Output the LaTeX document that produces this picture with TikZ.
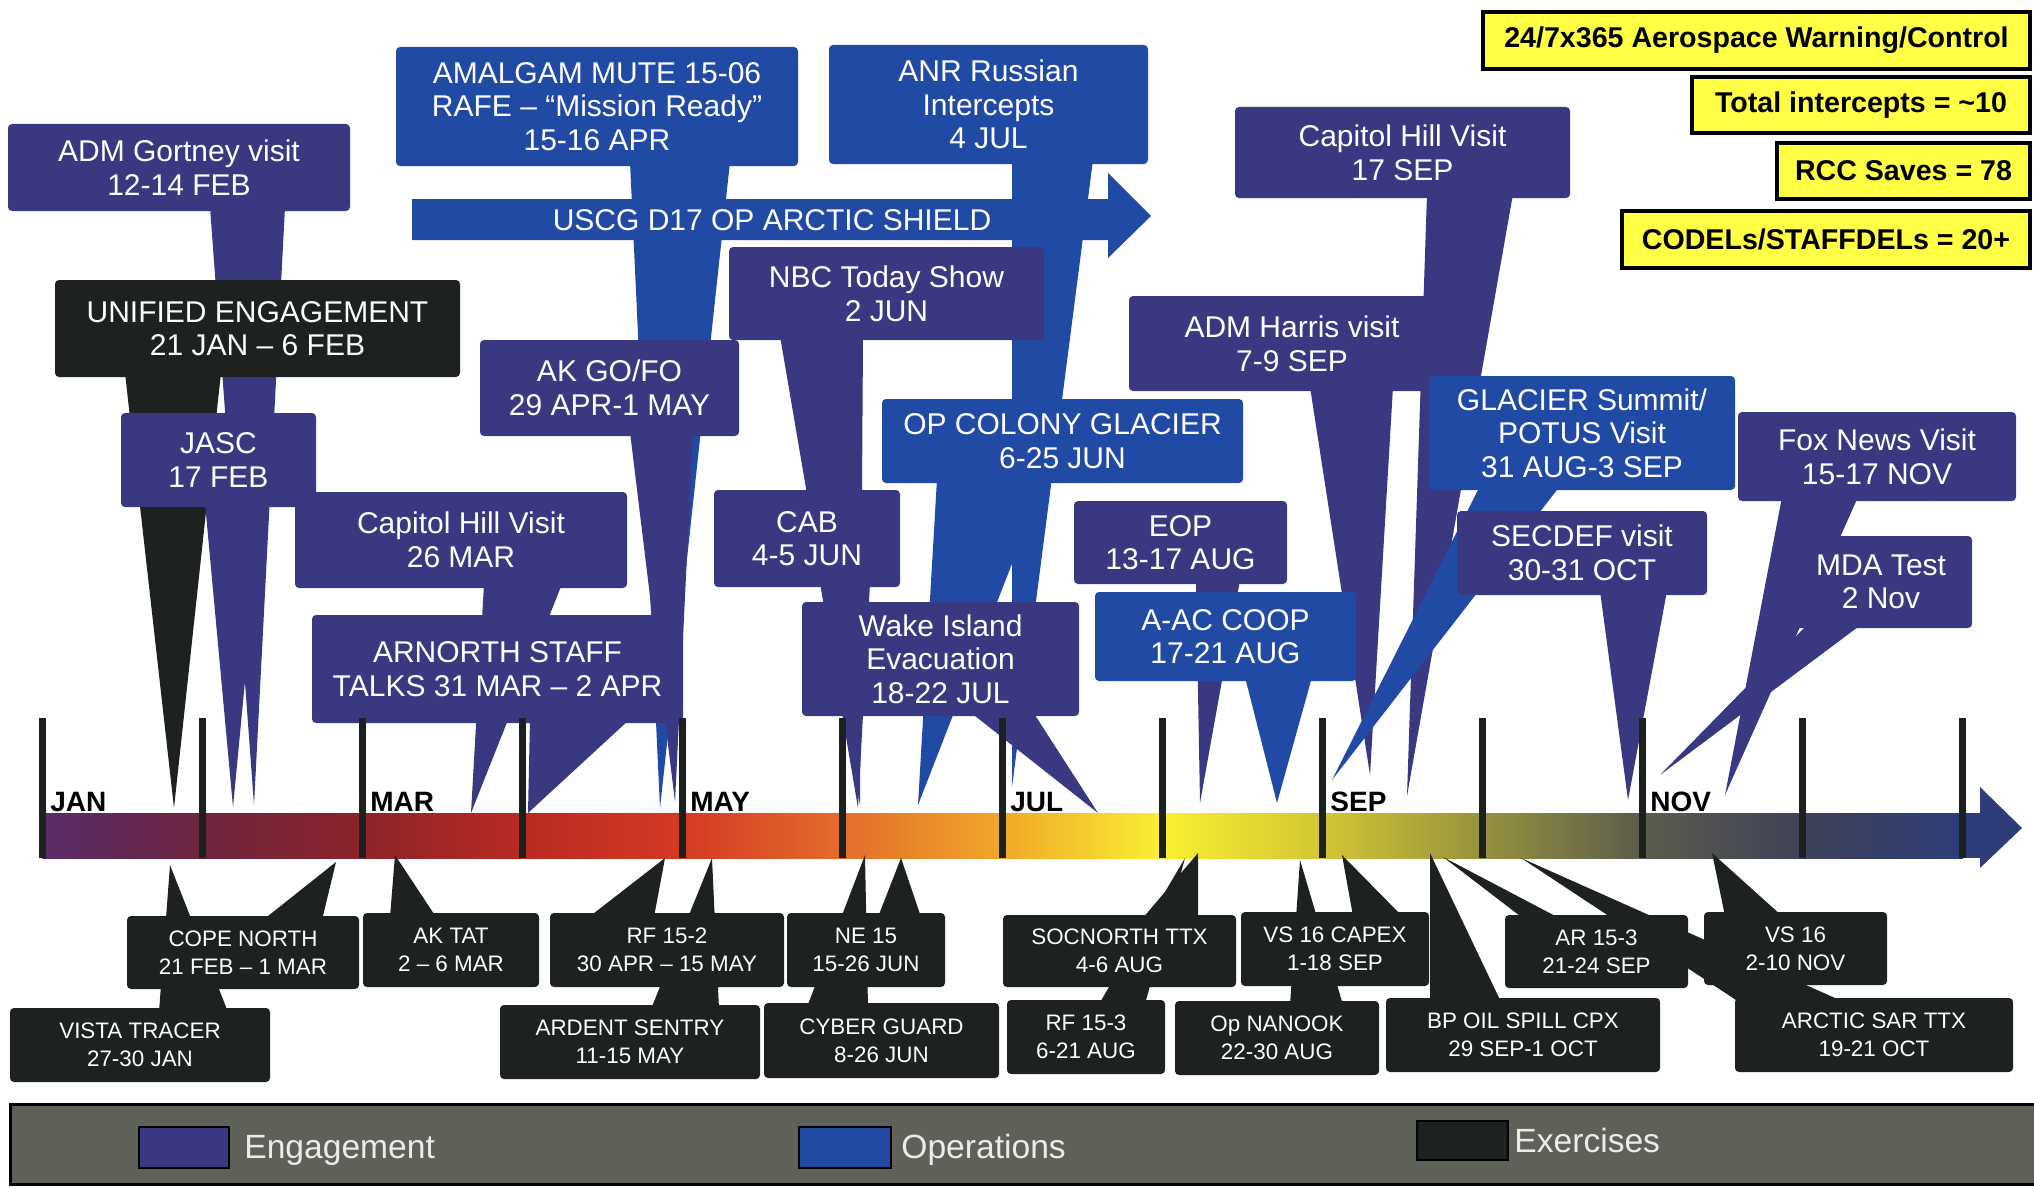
\documentclass[tikz,border=0pt]{standalone}
\usepackage{fontspec}
\setmainfont{Liberation Sans}
\usepackage{xcolor}
\usepackage{tikz}
\usetikzlibrary{calc, fit}

\pgfdeclarelayer{barlayer}
\pgfdeclarelayer{wedgelayer}
\pgfdeclarelayer{ticklayer}
\pgfsetlayers{barlayer,wedgelayer,main,ticklayer}

\definecolor{engc}{RGB}{57,56,128}
\definecolor{opsc}{RGB}{33,74,165}
\definecolor{exrc}{RGB}{29,33,31}
\definecolor{yelc}{RGB}{255,255,70}
\definecolor{legc}{RGB}{94,97,88}
\definecolor{tickc}{RGB}{28,32,30}
\definecolor{bar0}{RGB}{88,44,104}
\definecolor{bar1}{RGB}{110,36,62}
\definecolor{bar2}{RGB}{140,36,42}
\definecolor{bar3}{RGB}{185,42,34}
\definecolor{bar4}{RGB}{212,58,36}
\definecolor{bar5}{RGB}{228,108,44}
\definecolor{bar6}{RGB}{240,168,40}
\definecolor{bar7}{RGB}{250,240,50}
\definecolor{bar8}{RGB}{210,198,52}
\definecolor{bar9}{RGB}{150,146,62}
\definecolor{bar10}{RGB}{92,92,76}
\definecolor{bar11}{RGB}{62,66,88}
\definecolor{bar12}{RGB}{46,60,122}

\begin{document}
\begin{tikzpicture}[
  x=0.5pt, y=-0.5pt,
  box/.style={rounded corners=2pt, inner sep=0pt, outer sep=0pt, align=center, text=white, font=\fontsize{15}{16.8}\selectfont},
  eng/.style={box, fill=engc},
  ops/.style={box, fill=opsc},
  exr/.style={box, fill=exrc},
  exb/.style={box, fill=exrc, font=\fontsize{11.2}{14}\selectfont},
  stat/.style={draw=black, line width=1.6pt, fill=yelc, inner sep=0pt, font=\fontsize{14.3}{16}\selectfont\bfseries},
  month/.style={anchor=base west, inner sep=0pt, font=\fontsize{14}{16}\selectfont\bfseries},
  legkey/.style={draw=black, line width=1pt, inner sep=0pt},
  legtext/.style={anchor=base west, inner sep=0pt, text=black!8, font=\fontsize{16.8}{18}\selectfont}
]
  \useasboundingbox (0,0) rectangle (2034,1188);

  % Timeline bar
  \begin{pgfonlayer}{barlayer}
    \foreach \i in {0,...,11} {
      \pgfmathtruncatemacro{\j}{\i+1}
      \shade[left color=bar\i, right color=bar\j] ({42+160*\i},813) rectangle ({43+160*\j},858);
    }
    \fill[bar0] (40,813) rectangle (43,858);
    \fill[bar12] (1962,813) rectangle (1984,858);
    \fill[bar12] (1980,787) -- (2022,828) -- (1980,868) -- cycle;
    \node[month] (jan) at (50,811) {JAN};
    \node[month] (mar) at (370,811) {MAR};
    \node[month] (may) at (690,811) {MAY};
    \node[month] (jul) at (1010,811) {JUL};
    \node[month] (sep) at (1330,811) {SEP};
    \node[month] (nov) at (1650,811) {NOV};
  \end{pgfonlayer}
  \begin{pgfonlayer}{ticklayer}
    \foreach \m in {0,...,12}
      \fill[tickc] ({38.5+160*\m},718) rectangle ({45.5+160*\m},858);
  \end{pgfonlayer}

  % Stats
  \node[stat, minimum width=273.5pt, minimum height=28.5pt] (warn) at (1756.5,40.5) {24/7x365 Aerospace Warning/Control};
  \node[stat, minimum width=169pt, minimum height=28pt] (intercepts) at (1861,105) {Total intercepts = \textasciitilde 10};
  \node[stat, minimum width=126.5pt, minimum height=28pt] (rcc) at (1903.5,171) {RCC Saves = 78};
  \node[stat, minimum width=204pt, minimum height=28.5pt] (codels) at (1826,239.5) {CODELs/STAFFDELs = 20+};

  % Arctic Shield arrow
  \fill[opsc] (412,199) -- (1108,199) -- (1108,173) -- (1151,216) -- (1108,258) -- (1108,240) -- (412,240) -- cycle;
  \node[box] (uscg) at (772,220) {USCG D17 OP ARCTIC SHIELD};

  % Engagements and operations
  \node[eng, minimum width=171pt, minimum height=43.5pt] (gortney) at (179,167.5) {ADM Gortney visit\\12-14 FEB};
  \node[exr, minimum width=202.5pt, minimum height=48.5pt] (unified) at (257.5,328.5) {UNIFIED ENGAGEMENT\\21 JAN – 6 FEB};
  \node[eng, minimum width=97.5pt, minimum height=47pt] (jasc) at (218.5,460) {JASC\\17 FEB};
  \node[eng, minimum width=166pt, minimum height=48pt] (capmar) at (461,540) {Capitol Hill Visit\\26 MAR};
  \node[eng, minimum width=185.5pt, minimum height=54pt] (arnorth) at (497.5,669) {ARNORTH STAFF\\TALKS 31 MAR – 2 APR};
  \node[ops, minimum width=201pt, minimum height=59.5pt] (amalgam) at (597,106.5) {AMALGAM MUTE 15-06\\RAFE – “Mission Ready”\\15-16 APR};
  \node[eng, minimum width=129.5pt, minimum height=48pt] (akgofo) at (609.5,388) {AK GO/FO\\29 APR-1 MAY};
  \node[ops, minimum width=159.5pt, minimum height=59.5pt] (anr) at (988.5,104.5) {ANR Russian\\Intercepts\\4 JUL};
  \node[eng, minimum width=157.5pt, minimum height=46.5pt] (nbc) at (886.5,293.5) {NBC Today Show\\2 JUN};
  \node[eng, minimum width=93pt, minimum height=48.5pt] (cab) at (807,538.5) {CAB\\4-5 JUN};
  \node[ops, minimum width=180.5pt, minimum height=42pt] (colony) at (1062.5,441) {OP COLONY GLACIER\\6-25 JUN};
  \node[eng, minimum width=138.5pt, minimum height=57pt] (wake) at (940.5,659) {Wake Island\\Evacuation\\18-22 JUL};
  \node[eng, minimum width=106.5pt, minimum height=41.5pt] (eop) at (1180.5,542.5) {EOP\\13-17 AUG};
  \node[ops, minimum width=130.5pt, minimum height=44.5pt] (aac) at (1225.5,636.5) {A-AC COOP\\17-21 AUG};
  \node[eng, minimum width=167.5pt, minimum height=45.5pt] (capsep) at (1402.5,152.5) {Capitol Hill Visit\\17 SEP};
  \node[eng, minimum width=163pt, minimum height=47.5pt] (harris) at (1292,343.5) {ADM Harris visit\\7-9 SEP};
  \node[ops, minimum width=153pt, minimum height=57pt] (glacier) at (1582,433) {GLACIER Summit/\\POTUS Visit\\31 AUG-3 SEP};
  \node[eng, minimum width=125pt, minimum height=42pt] (secdef) at (1582,553) {SECDEF visit\\30-31 OCT};
  \node[eng, minimum width=139pt, minimum height=44.5pt] (fox) at (1877,456.5) {Fox News Visit\\15-17 NOV};
  \node[eng, minimum width=91pt, minimum height=46pt] (mda) at (1881,582) {MDA Test\\2 Nov};

  % Exercises
  \node[exb, minimum width=130pt, minimum height=37pt] (vista) at (140,1045) {VISTA TRACER\\27-30 JAN};
  \node[exb, minimum width=116pt, minimum height=36.5pt] (cope) at (243,952.5) {COPE NORTH\\21 FEB – 1 MAR};
  \node[exb, minimum width=88pt, minimum height=37pt] (aktat) at (451,950) {AK TAT\\2 – 6 MAR};
  \node[exb, minimum width=117pt, minimum height=37pt] (rf152) at (667,950) {RF 15-2\\30 APR – 15 MAY};
  \node[exb, minimum width=130pt, minimum height=37pt] (ardent) at (630,1042) {ARDENT SENTRY\\11-15 MAY};
  \node[exb, minimum width=79pt, minimum height=37pt] (ne15) at (866,950) {NE 15\\15-26 JUN};
  \node[exb, minimum width=117.5pt, minimum height=37.5pt] (cyber) at (881.5,1040.5) {CYBER GUARD\\8-26 JUN};
  \node[exb, minimum width=116.5pt, minimum height=36pt] (socnorth) at (1119.5,951) {SOCNORTH TTX\\4-6 AUG};
  \node[exb, minimum width=79pt, minimum height=37pt] (rf153) at (1086,1037) {RF 15-3\\6-21 AUG};
  \node[exb, minimum width=94pt, minimum height=37pt] (capex) at (1335,949) {VS 16 CAPEX\\1-18 SEP};
  \node[exb, minimum width=102pt, minimum height=37pt] (nanook) at (1277,1038) {Op NANOOK\\22-30 AUG};
  \node[exb, minimum width=137pt, minimum height=37pt] (bpoil) at (1523,1035) {BP OIL SPILL CPX\\29 SEP-1 OCT};
  \node[exb, minimum width=91.5pt, minimum height=36.5pt] (ar153) at (1596.5,951.5) {AR 15-3\\21-24 SEP};
  \node[exb, minimum width=91.5pt, minimum height=36.5pt] (vs16) at (1795.5,948.5) {VS 16\\2-10 NOV};
  \node[exb, minimum width=139pt, minimum height=37pt] (arcticsar) at (1874,1035) {ARCTIC SAR TTX\\19-21 OCT};

  % Pointer tips on the timeline
  \coordinate (gortney-tip) at (254,805); \coordinate (unified-tip) at (174,808);
  \coordinate (jasc-tip) at (233,807);    \coordinate (capmar-tip) at (471,813);
  \coordinate (arnorth-tip) at (528,813); \coordinate (amalgam-tip) at (660,808);
  \coordinate (akgofo-tip) at (675,802);  \coordinate (anr-tip) at (1012,787);
  \coordinate (nbc-tip) at (860,805);     \coordinate (cab-tip) at (858,808);
  \coordinate (colony-tip) at (918,805);  \coordinate (wake-tip) at (1098,813);
  \coordinate (eop-tip) at (1200,803);    \coordinate (aac-tip) at (1277,803);
  \coordinate (capsep-tip) at (1407,796); \coordinate (harris-tip) at (1370,775);
  \coordinate (glacier-tip) at (1332,780);\coordinate (secdef-tip) at (1628,800);
  \coordinate (fox-tip) at (1725,795);    \coordinate (mda-tip) at (1660,775);
  \coordinate (vista-tip) at (170,865);   \coordinate (cope-tip) at (336,862);
  \coordinate (aktat-tip) at (395,855);   \coordinate (rf152-tip) at (665,858);
  \coordinate (ardent-tip) at (712,858);  \coordinate (ne15-tip) at (901,858);
  \coordinate (cyber-tip) at (865,855);   \coordinate (socnorth-tip) at (1198,853);
  \coordinate (rf153-tip) at (1185,858);  \coordinate (capex-tip) at (1342,855);
  \coordinate (nanook-tip) at (1300,860); \coordinate (bpoil-tip) at (1430,853);
  \coordinate (ar153-tip) at (1443,857);  \coordinate (arcticsar-tip) at (1521,858);
  \coordinate (vs16-tip) at (1712,853);

  % Pointers
  \begin{pgfonlayer}{wedgelayer}
    \fill[engc] ($(gortney.south west)+(202,-4)$) -- (gortney-tip) -- ($(gortney.south west)+(277,-4)$) -- cycle;
    \fill[exrc] ($(unified.south west)+(70,-4)$) -- (unified-tip) -- ($(unified.south west)+(166,-4)$) -- cycle;
    \fill[engc] ($(jasc.south west)+(84,-4)$) -- (jasc-tip) -- ($(jasc.south west)+(141,-4)$) -- cycle;
    \fill[engc] ($(capmar.south west)+(189,-4)$) -- (capmar-tip) -- ($(capmar.south west)+(267,-4)$) -- cycle;
    \fill[engc] ($(arnorth.south west)+(218,-4)$) -- (arnorth-tip) -- ($(arnorth.south west)+(318,-4)$) -- cycle;
    \fill[opsc] ($(amalgam.south west)+(234,-4)$) -- (amalgam-tip) -- ($(amalgam.south west)+(334,-4)$) -- cycle;
    \fill[engc] ($(akgofo.south west)+(150,-4)$) -- (akgofo-tip) -- ($(akgofo.south west)+(213,-4)$) -- cycle;
    \fill[opsc] ($(anr.south west)+(183,-4)$) -- (anr-tip) -- ($(anr.south west)+(264,-4)$) -- cycle;
    \fill[engc] ($(nbc.south west)+(51,-4)$) -- (nbc-tip) -- ($(nbc.south west)+(134,-4)$) -- cycle;
    \fill[engc] ($(cab.south west)+(106,-4)$) -- (cab-tip) -- ($(cab.south west)+(156,-4)$) -- cycle;
    \fill[opsc] ($(colony.south west)+(55,-4)$) -- (colony-tip) -- ($(colony.south west)+(163,-4)$) -- cycle;
    \fill[engc] ($(wake.south west)+(168,-4)$) -- (wake-tip) -- ($(wake.south west)+(231,-4)$) -- cycle;
    \fill[engc] ($(eop.south west)+(122,-4)$) -- (eop-tip) -- ($(eop.south west)+(166,-4)$) -- cycle;
    \fill[opsc] ($(aac.south west)+(150,-4)$) -- (aac-tip) -- ($(aac.south west)+(217,-4)$) -- cycle;
    \fill[engc] ($(capsep.south west)+(192,-4)$) -- (capsep-tip) -- ($(capsep.south west)+(278,-4)$) -- cycle;
    \fill[engc] ($(harris.south west)+(181,-4)$) -- (harris-tip) -- ($(harris.south west)+(264,-4)$) -- cycle;
    \fill[opsc] ($(glacier.south west)+(51,-4)$) -- (glacier-tip) -- ($(glacier.south west)+(131,-4)$) -- cycle;
    \fill[engc] ($(secdef.south west)+(143,-4)$) -- (secdef-tip) -- ($(secdef.south west)+(210,-4)$) -- cycle;
    \fill[engc] ($(fox.south west)+(44,-4)$) -- (fox-tip) -- ($(fox.south west)+(120,-4)$) -- cycle;
    \fill[engc] ($(mda.south west)+(18,-4)$) -- (mda-tip) -- ($(mda.south west)+(72,-4)$) -- cycle;

    \fill[exrc] ($(vista.north west)+(149,4)$) -- (vista-tip) -- ($(vista.north west)+(218,4)$) -- cycle;
    \fill[exrc] ($(cope.north west)+(136,4)$) -- (cope-tip) -- ($(cope.north west)+(195,4)$) -- cycle;
    \fill[exrc] ($(aktat.north west)+(27,4)$) -- (aktat-tip) -- ($(aktat.north west)+(73,4)$) -- cycle;
    \fill[exrc] ($(rf152.north west)+(39,4)$) -- (rf152-tip) -- ($(rf152.north west)+(104,4)$) -- cycle;
    \fill[exrc] ($(ardent.north west)+(151,4)$) -- (ardent-tip) -- ($(ardent.north west)+(219,4)$) -- cycle;
    \fill[exrc] ($(ne15.north west)+(91,4)$) -- (ne15-tip) -- ($(ne15.north west)+(134,4)$) -- cycle;
    \fill[exrc] ($(cyber.north west)+(43,4)$) -- (cyber-tip) -- ($(cyber.north west)+(104,4)$) -- cycle;
    \fill[exrc] ($(socnorth.north west)+(139,4)$) -- (socnorth-tip) -- ($(socnorth.north west)+(195,4)$) -- cycle;
    \fill[exrc] ($(rf153.north west)+(92,4)$) -- (rf153-tip) -- ($(rf153.north west)+(138,4)$) -- cycle;
    \fill[exrc] ($(capex.north west)+(112,4)$) -- (capex-tip) -- ($(capex.north west)+(161,4)$) -- cycle;
    \fill[exrc] ($(nanook.north west)+(115,4)$) -- (nanook-tip) -- ($(nanook.north west)+(168,4)$) -- cycle;
    \fill[exrc] ($(bpoil.north west)+(44,4)$) -- (bpoil-tip) -- ($(bpoil.north west)+(115,4)$) -- cycle;
    \fill[exrc] ($(ar153.north west)+(19,4)$) -- (ar153-tip) -- ($(ar153.north west)+(56,4)$) -- cycle;
    \fill[exrc] ($(arcticsar.north west)+(4,4)$) -- (arcticsar-tip) -- ($(arcticsar.north west)+(109,4)$) -- cycle;
    \fill[exrc] ($(vs16.north west)+(21,4)$) -- (vs16-tip) -- ($(vs16.north west)+(78,4)$) -- cycle;
  \end{pgfonlayer}

  % Legend
  \node[draw=black, line width=1.5pt, fill=legc, inner sep=0pt, fit={(10,1104) (2040,1184)}] (legend) {};
  \node[legkey, fill=engc, fit={(139,1127) (229,1168)}] (keyeng) {};
  \node[legtext] (keyengtext) at (244,1158) {Engagement};
  \node[legkey, fill=opsc, fit={(799,1127) (891,1168)}] (keyops) {};
  \node[legtext] (keyopstext) at (901,1158) {Operations};
  \node[legkey, fill=exrc, fit={(1417,1121) (1508,1160)}] (keyexr) {};
  \node[legtext] (keyexrtext) at (1514,1152) {Exercises};

\end{tikzpicture}
\end{document}
